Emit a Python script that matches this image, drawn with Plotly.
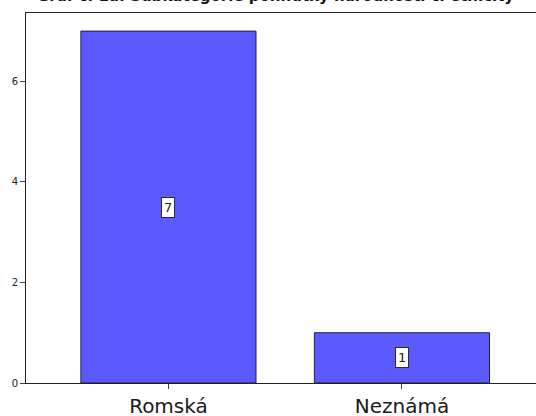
import plotly.graph_objects as go

categories = ["Romská", "Neznámá"]
counts = [7, 1]
y_ticks = [0, 2, 4, 6]
title_text = "Graf č. 1a: Subkategorie pohnutky národnosti či etnicity"

x_pos = list(range(len(categories)))

fig = go.Figure()
fig.add_trace(go.Bar(
    x=x_pos, y=counts, width=0.75,
    marker=dict(color="#5a5aff", line=dict(color="#202040", width=1)),
    hoverinfo="skip", showlegend=False,
))

for xp, c in zip(x_pos, counts):
    fig.add_annotation(
        x=xp, y=c / 2, text=str(c), showarrow=False,
        font=dict(family="DejaVu Sans", size=13, color="#222222"),
        bgcolor="white", bordercolor="#2a2a3a", borderwidth=1, borderpad=2,
    )

fig.add_annotation(
    xref="paper", yref="paper", x=(275 - 26) / 510, y=1 + 17 / 370, yanchor="middle",
    text="<b>" + title_text + "</b>", showarrow=False,
    font=dict(family="DejaVu Sans", size=15, color="#111111"),
)

fig.update_layout(
    width=536, height=416,
    margin=dict(l=26, r=0, t=13, b=33),
    paper_bgcolor="white", plot_bgcolor="white",
    xaxis=dict(
        range=[-0.61, 1.574], tickvals=x_pos, ticktext=categories,
        showline=True, linecolor="#222222", linewidth=1, mirror=True,
        ticks="outside", ticklen=5, tickcolor="#444444",
        showgrid=False, zeroline=False, automargin=False,
        tickfont=dict(family="DejaVu Sans", size=20, color="#1a1a1a"),
    ),
    yaxis=dict(
        range=[0, 7.36], tickvals=y_ticks,
        showline=True, linecolor="#222222", linewidth=1,
        ticks="outside", ticklen=5, tickcolor="#444444",
        showgrid=False, zeroline=False, automargin=False,
        tickfont=dict(family="DejaVu Sans", size=10, color="#222222"),
    ),
)

fig.write_html("out.html", config={"displayModeBar": False},
               post_script="document.body.style.margin='0';")
